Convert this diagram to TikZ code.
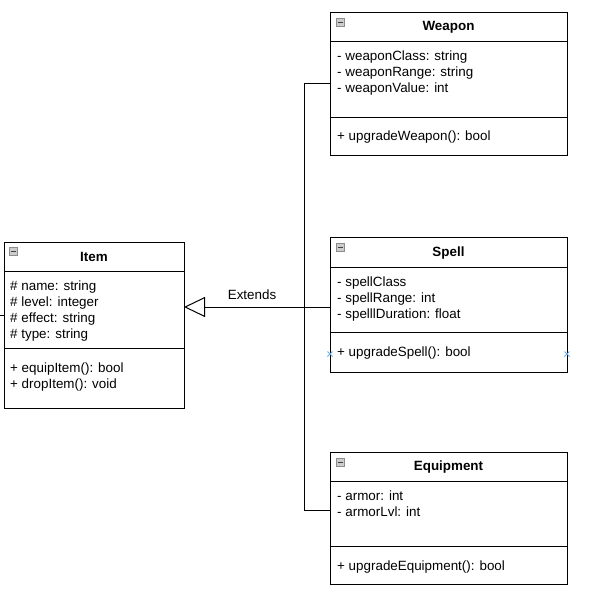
\documentclass[tikz,border=0pt]{standalone}
\usepackage{fontspec}
\setmainfont{Liberation Sans}
\usetikzlibrary{arrows.meta}

\definecolor{hoverblue}{RGB}{110,170,230}

\tikzset{
  classbox/.style={draw, line width=1pt, inner sep=0pt, outer sep=0pt},
  member/.style={anchor=base west, inner sep=0pt, align=left, font=\fontsize{13.4}{16}\selectfont},
  title/.style={anchor=base, inner sep=0pt, font=\fontsize{13.4}{16}\selectfont\bfseries},
  icon/.style={draw=black!45, fill=black!20, line width=0.6pt, minimum size=8pt, inner sep=0pt, anchor=north west,
    path picture={\draw[black!75, line width=1pt] ([xshift=1.5pt]path picture bounding box.west) -- ([xshift=-1.5pt]path picture bounding box.east);}},
  conn/.style={line width=1pt},
  extends/.style={-{Triangle[open, length=21pt, width=20pt]}},
  hovermark/.style={draw=hoverblue, line width=1pt}
}

\begin{document}
\begin{tikzpicture}[x=1pt, y=-1pt]
\useasboundingbox (0,0) rectangle (603,603);

% Item (member nodes sit on the baseline of their last line)
\node[classbox, minimum width=180pt, minimum height=166pt] (item) at (94,325) {};
\draw[conn] (4,271) -- (184,271);
\draw[conn] (4,348) -- (184,348);
\node[icon] (itemicon) at ([shift={(5pt,-5pt)}]item.north west) {};
\node[title] (itemtitle) at (94,261.5) {Item};
\node[member] (itemattr) at (10,338) {\# name: string\\\# level: integer\\\# effect: string\\\# type: string};
\node[member] (itemops) at (10,388) {+ equipItem(): bool\\+ dropItem(): void};
\draw[conn] (0,315) -- (item.west |- 0,315);

% Weapon
\node[classbox, minimum width=237pt, minimum height=143pt] (weapon) at (448.5,83.5) {};
\draw[conn] (330,41) -- (567,41);
\draw[conn] (330,117) -- (567,117);
\node[icon] (weaponicon) at ([shift={(6pt,-6pt)}]weapon.north west) {};
\node[title] (weapontitle) at (448.5,30.7) {Weapon};
\node[member] (weaponattr) at (337,92.5) {- weaponClass: string\\- weaponRange: string\\- weaponValue: int};
\node[member] (weaponops) at (337,140) {+ upgradeWeapon(): bool};

% Spell
\node[classbox, minimum width=237pt, minimum height=135pt] (spell) at (448.5,304.5) {};
\draw[conn] (330,267) -- (567,267);
\draw[conn] (330,332) -- (567,332);
\node[icon] (spellicon) at ([shift={(6pt,-6pt)}]spell.north west) {};
\node[title] (spelltitle) at (448.5,256.7) {Spell};
\node[member] (spellattr) at (337,318) {- spellClass\\- spellRange: int\\- spelllDuration: float};
\node[member] (spellops) at (337,356) {+ upgradeSpell(): bool};
\draw[hovermark] (327.5,351.5) -- (332.5,356.5) (327.5,356.5) -- (332.5,351.5);
\draw[hovermark] (564.5,351.5) -- (569.5,356.5) (564.5,356.5) -- (569.5,351.5);

% Equipment
\node[classbox, minimum width=237pt, minimum height=132pt] (equipment) at (448.5,518) {};
\draw[conn] (330,481) -- (567,481);
\draw[conn] (330,546) -- (567,546);
\node[icon] (equipmenticon) at ([shift={(6pt,-6pt)}]equipment.north west) {};
\node[title] (equipmenttitle) at (448.5,470.7) {Equipment};
\node[member] (equipmentattr) at (337,516) {- armor: int\\- armorLvl: int};
\node[member] (equipmentops) at (337,570) {+ upgradeEquipment(): bool};

% inheritance
\coordinate (trunk) at (304.5,307);
\draw[conn] (weapon.west) -| (trunk) |- ([yshift=8pt]equipment.west);
\draw[conn, extends] ([yshift=-2.5pt]spell.west) -- (item.east |- trunk)
  node[pos=0.534, yshift=12pt, font=\fontsize{13.4}{16}\selectfont] (extlabel) {Extends};
\end{tikzpicture}
\end{document}
